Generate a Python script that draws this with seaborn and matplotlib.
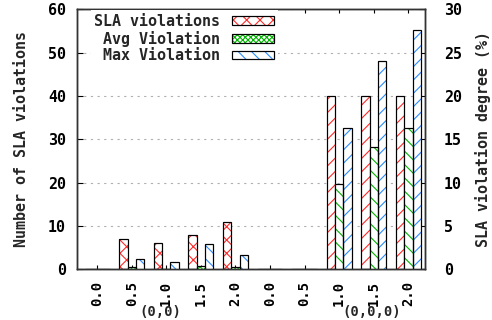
import numpy as np
import pandas as pd
import matplotlib
matplotlib.use("Agg")
import matplotlib.pyplot as plt
import matplotlib.transforms as mtransforms
from matplotlib.colors import to_hex
from matplotlib.patches import Rectangle, Patch
from matplotlib.legend_handler import HandlerTuple
import seaborn as sns

# ---- data -------------------------------------------------------------
groups = ["(0,0)", "(0,0,0)"]
levels = ["0.0", "0.5", "1.0", "1.5", "2.0"]
sla_violations = [0, 7, 6, 8, 11, 0, 0, 40, 40, 40]          # count (left axis)
avg_violation = [0, 0.3, 0.0, 0.4, 0.3, 0, 0, 9.8, 14.1, 16.3]   # % (right axis)
max_violation = [0, 1.15, 0.8, 2.9, 1.65, 0, 0, 16.3, 24.0, 27.6]  # % (right axis)
series = ["SLA violations", "Avg Violation", "Max Violation"]
colors = ["#ff2a2a", "#00b400", "#2a8cff"]

categories = [f"{g} {l}" for g in groups for l in levels]
tick_labels = [l for g in groups for l in levels]

df = pd.DataFrame({
    "category": categories * 3,
    "series": np.repeat(series, len(categories)),
    "value": sla_violations + avg_violation + max_violation,
})

# hatch styles per series, per group
bar_hatches = {
    "SLA violations": ["xx", "//"],
    "Avg Violation": ["xxxx", "\\\\"],
    "Max Violation": ["\\\\", "//"],
}
legend_hatches = ["xx", "xxxxx", "\\\\"]

# ---- style ------------------------------------------------------------
sns.set_theme(style="white")
plt.rcParams["font.family"] = ["DejaVu Sans Mono", "DejaVu Sans"]
plt.rcParams["font.weight"] = "bold"
plt.rcParams["hatch.linewidth"] = 1.0
FS = 13.5
FS_X = 12.5
EDGE = "#333333"

fig = plt.figure(figsize=(6.15, 4.0), dpi=80)
ax = fig.add_axes([77 / 492, 1 - 269.3 / 320, 348 / 492, 260 / 320])
ax2 = ax.twinx()

palette = dict(zip(series, colors))
common = dict(x="category", y="value", hue="series", hue_order=series,
              order=categories, palette=palette, width=0.72, saturation=1,
              errorbar=None, legend=False, dodge=True)
sns.barplot(data=df[df["series"] == series[0]], ax=ax, **common)
sns.barplot(data=df[df["series"] != series[0]], ax=ax2, **common)

color_to_series = {to_hex(c): s for s, c in palette.items()}


def style_bars(axis):
    for bar in list(axis.patches):
        name = color_to_series.get(to_hex(bar.get_facecolor()))
        if name is None:
            continue
        idx = int(round(bar.get_x() + bar.get_width() / 2))
        grp = min(max(idx, 0) // len(levels), len(groups) - 1)
        bar.set_facecolor("white")
        bar.set_edgecolor(palette[name])
        bar.set_hatch(bar_hatches[name][grp])
        bar.set_linewidth(0)
        axis.add_patch(Rectangle(bar.get_xy(), bar.get_width(), bar.get_height(),
                                 fill=False, edgecolor="black", lw=1.1,
                                 zorder=bar.get_zorder() + 0.1))


style_bars(ax)
style_bars(ax2)

# ---- axes -------------------------------------------------------------
ax.set_xlim(-0.58, 9.48)
ax.set_ylim(0, 60)
ax2.set_ylim(0, 30)
ax.set_yticks(range(0, 61, 10))
ax2.set_yticks(range(0, 31, 5))
ax.set_xticks(range(len(categories)))
ax.set_xticklabels(tick_labels, rotation=90, fontsize=FS_X, fontweight="bold")
ax.set_xlabel("")
ax2.set_xlabel("")

ax.tick_params(axis="y", direction="in", length=5, width=1, pad=10,
               left=True, right=False, labelsize=FS, colors="black")
ax.tick_params(axis="x", direction="in", length=4, width=1, pad=10.5,
               top=True, bottom=True, labelsize=FS_X, colors="black")
ax2.tick_params(axis="y", direction="in", length=5, width=1, pad=17,
                right=True, labelsize=FS, colors="black")
for a in (ax, ax2):
    for s in a.spines.values():
        s.set_color(EDGE)
        s.set_linewidth(1.3)
    for lab in a.get_yticklabels():
        lab.set_fontweight("bold")

ax.yaxis.grid(True, linestyle=(0, (2, 4)), color="#b0b0b0", lw=1)
ax.set_axisbelow(True)

ax.set_ylabel("Number of SLA violations", fontsize=FS, fontweight="bold")
ax.yaxis.set_label_coords(-0.138, 0.5)
ax2.set_ylabel("SLA violation degree (%)", fontsize=FS, fontweight="bold")
ax2.yaxis.set_label_coords(1.144, 0.5)

# group titles under the tick labels
trans = mtransforms.blended_transform_factory(ax.transData, fig.transFigure)
for xpos, name in zip([1.82, 7.95], groups):
    fig.text(xpos, 0.5 / 320, name, transform=trans, ha="center",
             va="bottom", fontsize=FS_X, fontweight="bold")

# ---- legend -----------------------------------------------------------
handles = [(Patch(facecolor="white", edgecolor=c, hatch=h, lw=0),
            Patch(facecolor="none", edgecolor="black", lw=1.1))
           for c, h in zip(colors, legend_hatches)]
leg = ax2.legend(handles, series, handler_map={tuple: HandlerTuple(ndivide=1)},
                 markerfirst=False, loc="upper right",
                 bbox_to_anchor=(278 / 492, 1 - 10 / 320),
                 bbox_transform=fig.transFigure, frameon=True, fancybox=False,
                 facecolor="white", edgecolor="none", framealpha=1,
                 handlelength=2.8, handleheight=0.5, handletextpad=0.8,
                 labelspacing=0.12, borderpad=0.25, borderaxespad=0,
                 prop={"size": FS, "weight": "bold"})

fig.savefig("out.png", dpi=80)
